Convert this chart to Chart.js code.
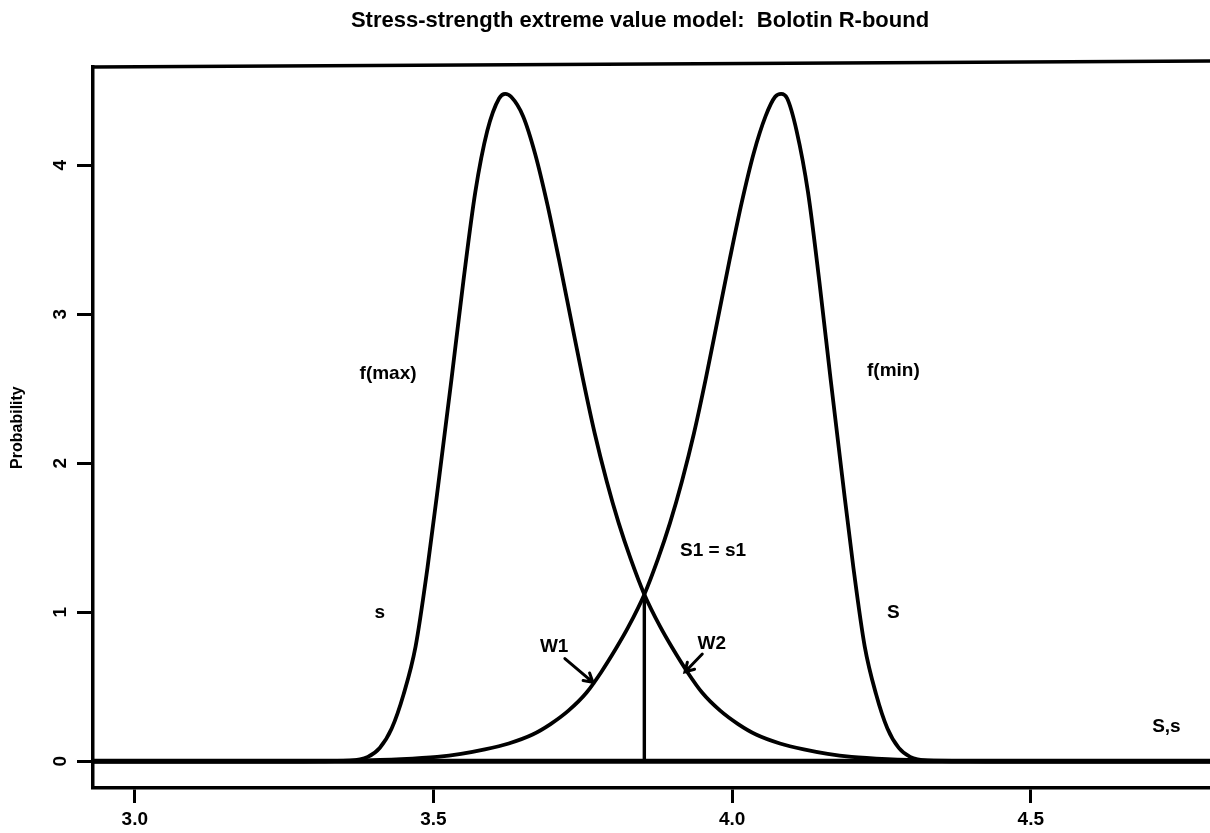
<!DOCTYPE html>
<html>
<head>
<meta charset="utf-8">
<script src="https://cdn.jsdelivr.net/npm/chart.js@4/dist/chart.umd.min.js"></script>
<style>
  html, body { margin: 0; padding: 0; background: #fff; overflow: hidden; }
  #wrap { position: relative; width: 1210px; height: 833px; }
</style>
</head>
<body>
<div id="wrap"><canvas id="c" width="1210" height="833"></canvas></div>
<script>
// Density of the largest stress, f(max)
const fMaxX = [2.93, 3.30, 3.36, 3.39, 3.41, 3.43, 3.45, 3.47, 3.49, 3.51, 3.53, 3.55, 3.57, 3.59, 3.61, 3.62,
               3.63, 3.65, 3.67, 3.69, 3.71, 3.73, 3.75, 3.77, 3.79, 3.81, 3.83, 3.853, 3.88, 3.90, 3.925,
               3.95, 3.98, 4.01, 4.04, 4.08, 4.12, 4.16, 4.20, 4.26, 4.34, 4.45, 4.80];
const fMaxY = [0, 0, 0.005, 0.03, 0.09, 0.22, 0.45, 0.77, 1.30, 1.92, 2.56, 3.22, 3.82, 4.23, 4.45, 4.48,
               4.46, 4.33, 4.08, 3.75, 3.37, 2.97, 2.57, 2.20, 1.88, 1.60, 1.36, 1.12, 0.90, 0.76, 0.60,
               0.46, 0.34, 0.25, 0.18, 0.12, 0.08, 0.05, 0.03, 0.015, 0.005, 0, 0];

// Density of the smallest strength, f(min)
const fMinX = [2.93, 3.256, 3.366, 3.446, 3.506, 3.546, 3.586, 3.626, 3.666, 3.696, 3.726, 3.756, 3.781,
               3.806, 3.826, 3.853, 3.876, 3.896, 3.916, 3.936, 3.956, 3.976, 3.996, 4.016, 4.036, 4.056,
               4.072, 4.082, 4.092, 4.108, 4.127, 4.146, 4.165, 4.184, 4.203, 4.222, 4.241, 4.260, 4.279,
               4.298, 4.327, 4.384, 4.80];
const fMinY = [0, 0, 0.005, 0.015, 0.03, 0.05, 0.08, 0.12, 0.18, 0.25, 0.34, 0.46, 0.60,
               0.76, 0.90, 1.12, 1.36, 1.60, 1.88, 2.20, 2.57, 2.97, 3.37, 3.75, 4.08, 4.33,
               4.46, 4.48, 4.45, 4.23, 3.82, 3.22, 2.56, 1.92, 1.30, 0.77, 0.45, 0.22, 0.09,
               0.03, 0.005, 0, 0];

// Zero line and the point where the two densities cross (S1 = s1)
const zeroX = [2.93, 4.80];
const zeroY = [0, 0];
const crossX = 3.853;
const crossY = 1.12;

// Axis ticks
const xTicks = [3.0, 3.5, 4.0, 4.5];
const xTickLabels = ['3.0', '3.5', '4.0', '4.5'];
const yTicks = [0, 1, 2, 3, 4];
const yTickLabels = ['0', '1', '2', '3', '4'];

// Text notes placed in data coordinates
const noteText = ['f(max)', 'f(min)', 's', 'S', 'S1 = s1', 'W1', 'W2', 'S,s'];
const noteX    = [3.424, 4.270, 3.410, 4.270, 3.968, 3.702, 3.966, 4.727];
const noteY    = [2.60, 2.62, 1.00, 1.00, 1.41, 0.77, 0.79, 0.235];

// Arrows: tail -> head, data coordinates
const arrowFromX = [3.720, 3.950];
const arrowFromY = [0.69, 0.72];
const arrowToX   = [3.767, 3.921];
const arrowToY   = [0.53, 0.60];

const toPts = (xs, ys) => xs.map((x, i) => ({ x: x, y: ys[i] }));

const FONT = '"Liberation Sans", Arial, Helvetica, sans-serif';

const decorPlugin = {
  id: 'decor',
  afterDraw(chart) {
    const ctx = chart.ctx;
    const xs = chart.scales.x, ys = chart.scales.y;
    const a = chart.chartArea;
    ctx.save();
    ctx.strokeStyle = '#000';
    ctx.fillStyle = '#000';
    ctx.lineCap = 'square';

    // top of the frame (the printed sheet sits a little askew)
    ctx.lineWidth = 3.5;
    ctx.beginPath();
    ctx.moveTo(a.left, a.top);
    ctx.lineTo(a.right, a.top - 6);
    ctx.stroke();

    // title, centred in the top margin
    ctx.font = 'bold 22px ' + FONT;
    ctx.textAlign = 'center';
    ctx.textBaseline = 'middle';
    ctx.fillText('Stress-strength extreme value model:  Bolotin R-bound', 640, 21);

    // rotated y tick labels
    ctx.font = 'bold 19px ' + FONT;
    yTicks.forEach((v, i) => {
      ctx.save();
      ctx.translate(61, ys.getPixelForValue(v));
      ctx.rotate(-Math.PI / 2);
      ctx.fillText(yTickLabels[i], 0, 0);
      ctx.restore();
    });

    // y axis title
    ctx.save();
    ctx.font = 'bold 16px ' + FONT;
    ctx.translate(18, ys.getPixelForValue(2.24));
    ctx.rotate(-Math.PI / 2);
    ctx.fillText('Probability', 0, 0);
    ctx.restore();

    // notes
    ctx.font = 'bold 19px ' + FONT;
    noteText.forEach((t, i) => {
      ctx.fillText(t, xs.getPixelForValue(noteX[i]), ys.getPixelForValue(noteY[i]));
    });

    // arrows
    ctx.lineWidth = 3;
    ctx.lineCap = 'round';
    arrowFromX.forEach((fx, i) => {
      const x0 = xs.getPixelForValue(fx), y0 = ys.getPixelForValue(arrowFromY[i]);
      const x1 = xs.getPixelForValue(arrowToX[i]), y1 = ys.getPixelForValue(arrowToY[i]);
      const ang = Math.atan2(y1 - y0, x1 - x0);
      const L = 10, spread = Math.PI / 6;
      ctx.beginPath();
      ctx.moveTo(x0, y0);
      ctx.lineTo(x1, y1);
      ctx.moveTo(x1 - L * Math.cos(ang - spread), y1 - L * Math.sin(ang - spread));
      ctx.lineTo(x1, y1);
      ctx.lineTo(x1 - L * Math.cos(ang + spread), y1 - L * Math.sin(ang + spread));
      ctx.stroke();
    });
    ctx.restore();
  }
};

const lineDs = (label, data, width) => ({
  label: label,
  data: data,
  borderColor: '#000',
  borderWidth: width,
  pointRadius: 0,
  fill: false,
  tension: 0.35,
  cubicInterpolationMode: 'monotone'
});

new Chart(document.getElementById('c'), {
  type: 'line',
  data: {
    datasets: [
      lineDs('zero', toPts(zeroX, zeroY), 5),
      lineDs('f(max)', toPts(fMaxX, fMaxY), 3.8),
      lineDs('f(min)', toPts(fMinX, fMinY), 3.8),
      lineDs('S1 = s1', [{ x: crossX, y: 0 }, { x: crossX, y: crossY }], 3.4)
    ]
  },
  options: {
    responsive: false,
    animation: false,
    devicePixelRatio: 1,
    layout: { padding: { top: 67, right: 0, left: 0, bottom: 0 } },
    plugins: {
      legend: { display: false },
      title: { display: false },
      tooltip: { enabled: false }
    },
    scales: {
      x: {
        type: 'linear',
        position: 'bottom',
        min: 2.93,
        max: 4.80,
        afterBuildTicks: s => { s.ticks = xTicks.map(v => ({ value: v })); },
        afterFit: s => { s.height = 45; },
        ticks: {
          autoSkip: false,
          maxRotation: 0,
          minRotation: 0,
          padding: 5,
          color: '#000',
          font: { family: FONT, size: 19, weight: 'bold' },
          callback: v => xTickLabels[xTicks.indexOf(v)]
        },
        grid: {
          display: true,
          drawOnChartArea: false,
          drawTicks: true,
          tickLength: 15,
          tickWidth: 3,
          tickColor: '#000'
        },
        border: { display: true, color: '#000', width: 3.5 }
      },
      y: {
        type: 'linear',
        min: -0.179,
        max: 4.66,
        afterBuildTicks: s => { s.ticks = yTicks.map(v => ({ value: v })); },
        afterFit: s => { s.width = 93; },
        ticks: { display: false },
        grid: {
          display: true,
          drawOnChartArea: false,
          drawTicks: true,
          tickLength: 16,
          tickWidth: 3,
          tickColor: '#000'
        },
        border: { display: true, color: '#000', width: 3.5 }
      }
    }
  },
  plugins: [decorPlugin]
});
</script>
</body>
</html>
